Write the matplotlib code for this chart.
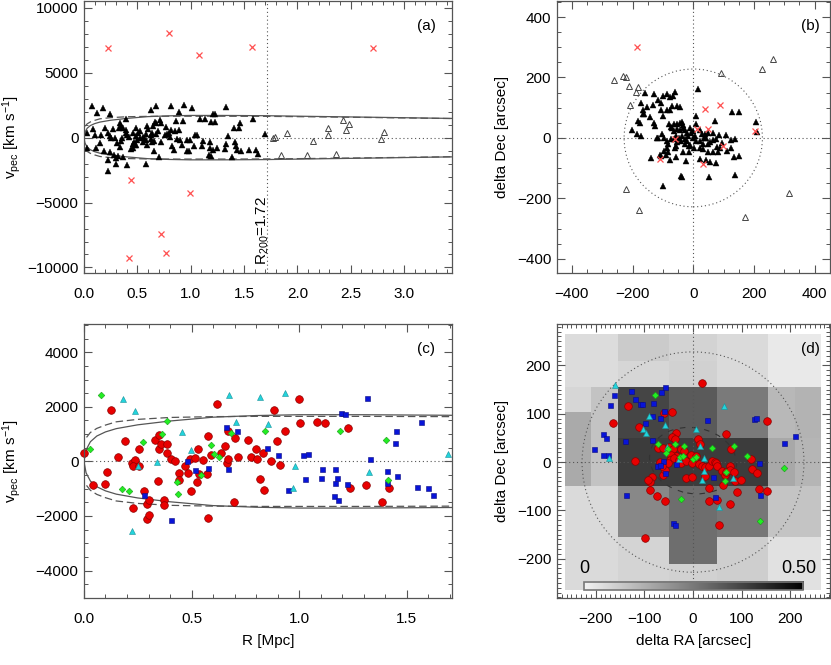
import numpy as np
import matplotlib
matplotlib.use("Agg")
import matplotlib.pyplot as plt
from matplotlib.colors import LinearSegmentedColormap
from matplotlib.patches import Circle, Ellipse
from matplotlib.ticker import MultipleLocator, FormatStrFormatter

plt.rcParams['font.family'] = ['Liberation Sans', 'DejaVu Sans']
plt.rcParams['mathtext.default'] = 'regular'
plt.rcParams['font.size'] = 11

# ---------------- panel (a): R [Mpc] vs v_pec ----------------
mem_r = [0.08, 0.18, 0.125, 0.24, 0.68, 0.625, 0.82, 0.94, 1.01, 0.89, 1.33, 1.21, 1.225, 1.09, 1.13,
         0.39, 0.86, 0.93, 1.19, 1.23, 1.46, 1.58, 0.20, 0.085, 0.27, 0.33, 0.34, 0.35, 0.37, 0.39,
         0.39, 0.665, 0.68, 0.715, 0.725, 0.645, 0.49, 0.53, 0.59, 0.60, 0.765, 0.82, 0.80, 0.85, 0.89,
         0.675, 0.695, 0.64, 0.63, 0.58, 0.55, 0.51, 0.46, 0.49, 0.425, 0.405, 0.25, 0.24, 0.29, 0.225,
         0.16, 0.105, 0.15, 0.11, 0.19, 0.24, 0.28, 0.30, 0.32, 0.37, 0.405, 0.225, 0.23, 0.30, 0.58,
         0.70, 0.44, 0.49, 0.46, 0.55, 0.56, 0.50, 0.525, 0.47, 0.46, 0.48, 0.34, 0.35, 0.31, 0.36,
         0.59, 0.625, 0.635, 0.655, 0.58, 0.655, 0.72, 0.76, 0.78, 0.81, 0.87, 0.90, 0.97, 0.99, 1.04,
         1.055, 0.825, 0.84, 0.915, 0.965, 0.98, 1.03, 1.105, 1.12, 1.18, 1.18, 1.21, 1.17, 1.19, 1.25,
         1.325, 1.33, 1.35, 1.39, 1.415, 1.425, 1.43, 1.47, 1.55, 1.61, 1.63, 1.405, 1.455, 1.70, 0.025,
         0.03]
mem_v = [2430, 2300, 1910, 1840, 2470, 2110, 2400, 2520, 2300, 1940, 2350, 1790, 1790, 1450, 1450,
         1470, 1320, 1320, 1230, 1230, 1150, 1450, 760, 640, 640, 760, 1130, 930, 740, 560,
         340, 1230, 1130, 1370, 1130, 930, 760, 540, 930, 640, 810, 560, 390, 490, 590,
         290, 540, 390, 200, 270, 70, 340, 340, 150, 50, 200, -50, 100, -50, 390,
         170, 170, -420, -830, -1000, -1130, -1370, -1570, -1420, -1520, -2130, -2600, -1720, -2030, -2060,
         -1520, -910, -590, -470, -340, -50, -170, -50, -340, -830, -590, -710, -290, -420, -50,
         -590, -100, -340, -220, -150, -1030, -340, 200, 250, 20, -100, -150, -150, -150, 220,
         220, -660, -980, -540, -1000, -1000, -660, -640, -290, -340, -760, -980, -1320, -1400, -830,
         -880, -470, 100, -1470, -340, -660, -980, -1030, -960, -980, -1230, 760, 740, 270, 390,
         -760]
out_r = [1.774, 1.79, 1.90, 2.143, 2.29, 2.29, 2.424, 2.487, 2.456, 2.786, 2.812, 1.846, 2.087, 2.359]
out_v = [-25, 25, 343, -270, 711, 221, 1348, 1078, 564, -123, 466, -1323, -1323, -1225]
int_r = [0.222, 0.80, 1.081, 1.572, 2.713, 0.438, 0.991, 0.722, 0.769, 0.422]
int_v = [6909, 8085, 6370, 7007, 6909, -3234, -4288, -7448, -8869, -9237]

# caustic curves
caus_r = [0.0, 0.01, 0.03, 0.06, 0.1, 0.15, 0.25, 0.4, 0.6, 0.8, 1.0, 1.3, 1.7, 2.2, 2.8, 3.45]
caus_solid = [0, 420, 720, 930, 1080, 1200, 1340, 1480, 1620, 1680, 1710, 1710, 1690, 1630, 1560, 1480]
dash_r = [0.012, 0.03, 0.06, 0.1, 0.15, 0.25, 0.4, 0.6, 0.8, 1.0, 1.3, 1.7, 2.2, 2.8, 3.45]
caus_dash = [880, 1060, 1210, 1330, 1450, 1540, 1610, 1640, 1650, 1650, 1650, 1640, 1600, 1540, 1470]
r200 = 1.72

# ---------------- panel (b): sky positions ----------------
mem_ra = [17, -59, -88, -130, -159, -67, -78, -99, -117, -105, -172, -55, -43, -69, -88, -78, -105, -132,
          -165, -183, -177, -202, -185, -173, -119, -100, -81, -72, -64, -52, -43, -38, -33, -69, -55, -44,
          -33, -26, -20, -9, -1, 10, 10, 21, 29, 7, -16, -37, -48, -65, -85, -88, -98, -77, -91, -108,
          -138, -25, -42, -38, -99, 21, 35, 43, 54, 65, 32, 47, 76, 66, 71, 85, 109, 126, 137, 126,
          112, 134, 150, 138, 208, 211, 151, 128, 78, 49, 32, 21, -14, 21, 43, 54, 51, -12, 74, -58,
          -52, -59, -27, -19, -58, -1, 10, 39, 48, 89, 96, 80, 65, 3, -28, -40, -73, -83, -64, -12,
          -102, -115, -142, -131, -125, -161, -154, -167, -110, -97, -83, -33, -58, -15]
mem_dec = [163, 152, 145, 145, 148, 138, 137, 138, 127, 115, 116, 105, 103, 105, 94, 94, 92, 110,
           80, 56, 50, 25, 14, 7, 0, 72, 45, 37, 45, 47, 49, 52, 43, 34, 31, 26,
           34, 25, 17, 16, 23, 72, 45, 25, 14, 8, 5, 7, 0, -4, -10, -34, -43, -73, -57, -59,
           -67, -75, -125, -130, -158, -10, -1, -1, -13, -8, -21, -21, -3, 17, 56, 10, 10, -7, -2, -32,
           -43, -64, -59, -122, 52, 19, 85, 86, -31, -48, -35, -34, -26, -70, -73, -81, -130, -24, -83, -26,
           -15, -34, -2, -10, 7, -1, -10, 12, 17, -32, -17, -48, -45, -32, -19, -10, -2, -21, 23, 34,
           14, 1, 69, 48, 38, 78, 102, 94, -56, 1, -45, -48, -64, -45]
out_ra = [-262, -233, -223, -212, -182, -189, -208, -223, -179, 93, 228, 263, 315, 172]
out_dec = [192, 205, 201, 173, 169, 151, 108, -168, -237, 214, 227, 260, -183, -263]
int_ra = [-186, -109, -59, 12, 48, 40, 87, 204, 97, 32]
int_dec = [302, -70, -4, 28, 28, 97, 110, 23, -28, -86]
r200_arcsec = 228

# ---------------- panel (c): member populations ----------------
red_r = [0.00, 0.04, 0.10, 0.105, 0.127, 0.158, 0.189, 0.222, 0.237, 0.229, 0.256, 0.257, 0.228, 0.278,
         0.293, 0.293, 0.302, 0.304, 0.332, 0.346, 0.350, 0.347, 0.360, 0.372, 0.374, 0.388, 0.384, 0.406,
         0.422, 0.471, 0.443, 0.442, 0.482, 0.494, 0.498, 0.518, 0.530, 0.524, 0.535, 0.555, 0.571, 0.574,
         0.575, 0.592, 0.616, 0.639, 0.654, 0.664, 0.668, 0.670, 0.695, 0.701, 0.716, 0.761, 0.774, 0.800,
         0.803, 0.816, 0.833, 0.836, 0.868, 0.881, 0.899, 0.909, 0.933, 0.997, 1.005, 1.081, 1.118, 1.226,
         1.237, 1.310, 1.385, 1.419]
red_v = [290, -857, -820, -406, 1867, 178, 748, -54, 56, -163, 445, -187, -1697, -1076,
         -1563, -2111, -1965, -1417, 785, -736, 980, 445, 629, -1405, -1599, 651, 324, 80,
         32, -163, -430, -686, -430, 105, -1076, 129, 470, -771, -467, 44, -467, 932,
         -2074, 226, 2099, 324, 555, -41, 80, 1114, -1502, 871, 166, 773, 178, 445,
         80, -650, 324, -1052, 7, 1894, 748, -139, 1126, 2271, 1419, 1430, 1406, 1211,
         -978, -857, -1490, -991]
blue_r = [0.279, 0.405, 0.478, 0.518, 0.578, 0.660, 0.671, 0.713, 0.850, 0.901, 0.950, 1.017, 1.042,
          1.025, 1.102, 1.105, 1.164, 1.167, 1.175, 1.160, 1.178, 1.194, 1.214, 1.222, 1.316, 1.330,
          1.408, 1.408, 1.451, 1.443, 1.454, 1.547, 1.567, 1.597, 1.623]
blue_v = [-1223, -2159, 7, -321, -248, 1248, -285, 1114, 494, 226, -1040, 238, 275,
          -662, -625, -285, -297, -808, -601, -1283, -1405, 1771, 1735, -833, 2308, 92,
          -346, -808, 1126, 689, -552, -954, 1431, -978, -1246]
cyan_r = [0.180, 0.237, 0.225, 0.253, 0.341, 0.456, 0.496, 0.676, 0.707, 0.817, 0.857, 0.932, 0.980,
          0.971, 1.322, 1.692]
cyan_v = [2270, 1844, -2536, -163, -5, 1078, 421, 2440, 1442, 2368, 1357, 2490, -163,
          -978, -381, 288]
green_r = [0.079, 0.029, 0.178, 0.208, 0.276, 0.364, 0.388, 0.434, 0.437, 0.546, 0.592, 0.602, 0.629,
           0.685, 0.842, 1.189, 1.403, 1.412]
green_v = [2427, 469, -1015, -1088, 712, 1016, 1478, -748, -1199, -503, 615, 287, 153,
           1054, 1126, 1126, 785, -675]

# ---------------- panel (d): populations on the sky ----------------
red_ra = [18, -133, -44, -59, -165, -112, -34, 68, 153, 10, 14, -44, -38, -71, -62, -49, -41, -24, -19,
          -34, -45, -48, -51, -39, -29, -24, -15, -5, 7, 2, -3, 12, 19, 24, 32, 40, 45, 48, 50, 60, 65,
          68, 75, 77, 84, 86, 99, 78, 120, 122, 131, 25, -14, -3, -62, -57, -64, -68, -85, -89, -92,
          -119, 33, 32, 49, 75, 91, 62, 136, 152, 54, -75, -58, -89, -99]
red_dec = [164, 115, 104, 101, 80, 72, 60, 59, 85, 47, 37, 51, 48, 29, 30, 32, 28, 26, 23,
           12, 15, 5, -1, 8, 5, -2, 3, 15, 12, 3, -2, -3, -9, -10, -9, 3, 1, -2, -9, -19, -26,
           -21, -9, -16, -21, -39, -37, 27, 6, -14, -23, -28, -34, -30, -26, -16, -9, 1, -31, -42, -38,
           2, -54, -80, -78, -86, -61, -47, -55, -59, -130, -71, -81, -57, -157]
blue_ra = [-58, -66, -127, -162, -119, -108, -105, -82, -171, -60, -85, -67, -99, 29, 126, 130, 209,
           188, -184, -179, -203, -185, -175, -140, -84, -62, -75, -68, -36, -58, 42, 136, 137, -137,
           45, -41, -38]
blue_dec = [155, 144, 147, 138, 131, 121, 121, 123, 119, 106, 95, 92, 81, 86, 90, 91, 54,
            39, 58, 50, 28, 15, 14, 43, 45, 2, -8, -7, -4, -23, -30, -1, -68, -68,
            -73, -126, -130]
cyan_ra = [-160, 63, -90, -58, -103, -97, 7, 14, -53, -173, -29, 23, 23, 18, 82, 54]
cyan_dec = [160, 115, 96, 77, 69, 61, 69, 34, 31, 8, 6, 9, -19, -37, -32, -92]
green_ra = [-79, -71, -38, -18, 40, 84, -52, -55, -27, -21, 0, 7, 68, 66, 111, 186, -24, 138]
green_dec = [139, 38, 38, 34, 30, 34, 26, 19, 10, 13, 6, 10, -21, -39, 12, -12, -77, -122]

# binned fraction map behind panel (d), rows from top (north) to bottom
map_edges = [-264, -210, -155, -103, -50, 0, 50, 103, 155, 210, 264]
frac_map = [
    [0.045, 0.045, 0.081, 0.081, 0.066, 0.066, 0.050, 0.050, 0.021, 0.021],
    [0.045, 0.045, 0.058, 0.058, 0.070, 0.070, 0.050, 0.050, 0.021, 0.021],
    [0.060, 0.097, 0.357, 0.357, 0.314, 0.314, 0.248, 0.248, 0.120, 0.130],
    [0.149, 0.097, 0.357, 0.357, 0.314, 0.314, 0.248, 0.248, 0.120, 0.130],
    [0.149, 0.097, 0.376, 0.376, 0.376, 0.376, 0.376, 0.376, 0.153, 0.126],
    [0.149, 0.097, 0.376, 0.376, 0.376, 0.376, 0.376, 0.376, 0.153, 0.126],
    [0.050, 0.050, 0.219, 0.219, 0.273, 0.273, 0.254, 0.254, 0.095, 0.095],
    [0.050, 0.050, 0.219, 0.219, 0.273, 0.273, 0.254, 0.254, 0.095, 0.095],
    [0.050, 0.050, 0.064, 0.064, 0.273, 0.273, 0.076, 0.076, 0.037, 0.037],
    [0.050, 0.050, 0.064, 0.064, 0.070, 0.070, 0.076, 0.076, 0.037, 0.037],
]
frac_max = 0.5

AXCOL = '#555555'


def idl_axes(ax, xmaj, xmin, ymaj, ymin):
    for s in ax.spines.values():
        s.set_color(AXCOL)
        s.set_linewidth(0.9)
    ax.xaxis.set_major_locator(MultipleLocator(xmaj))
    ax.xaxis.set_minor_locator(MultipleLocator(xmin))
    ax.yaxis.set_major_locator(MultipleLocator(ymaj))
    ax.yaxis.set_minor_locator(MultipleLocator(ymin))
    ax.tick_params(which='both', direction='in', top=True, right=True, color=AXCOL, labelsize=11)
    ax.tick_params(which='major', length=6, width=0.8)
    ax.tick_params(which='minor', length=3, width=0.7)
    ax.tick_params(axis='x', pad=10)
    ax.tick_params(axis='y', pad=4)


fig = plt.figure(figsize=(8.31, 6.65), dpi=100)
ax_a = fig.add_axes([0.101, 0.589, 0.443, 0.409])
ax_b = fig.add_axes([0.670, 0.589, 0.3285, 0.409])
ax_c = fig.add_axes([0.101, 0.101, 0.443, 0.412])
ax_d = fig.add_axes([0.670, 0.101, 0.3285, 0.412])

dot = dict(color=AXCOL, linestyle=(0, (1, 2.5)), linewidth=0.8)
cl = '#555555'

# (a)
ax = ax_a
ax.plot(caus_r, caus_solid, color=cl, lw=0.9)
ax.plot(caus_r, [-v for v in caus_solid], color=cl, lw=0.9)
ax.plot(dash_r, caus_dash, color=cl, lw=0.9, dashes=(6, 3))
ax.plot(dash_r, [-v for v in caus_dash], color=cl, lw=0.9, dashes=(6, 3))
ax.axhline(0, **dot)
ax.axvline(r200, **dot)
ax.plot(mem_r, mem_v, '^', color='black', ms=4.2, mew=0.3)
ax.plot(out_r, out_v, '^', mfc='none', mec='#444444', ms=4.2, mew=0.7)
ax.plot(int_r, int_v, 'x', color='#ff5050', ms=5, mew=0.9)
ax.text(1.68, -9800, 'R$_{200}$=1.72', rotation=90, ha='center', va='bottom', fontsize=11)
ax.set_xlim(0, 3.45)
ax.set_ylim(-10450, 10500)
idl_axes(ax, 0.5, 0.1, 5000, 1000)
ax.xaxis.set_major_formatter(FormatStrFormatter('%.1f'))
ax.set_ylabel('v$_{pec}$ [km s$^{-1}$]')
ax.yaxis.set_label_coords(-0.166, 0.5)
ax.text(0.93, 0.91, '(a)', transform=ax.transAxes, ha='center', va='center')

# (b)
ax = ax_b
ax.add_patch(Circle((0, 0), r200_arcsec, fill=False, **dot))
ax.axhline(0, **dot)
ax.axvline(0, **dot)
ax.plot(mem_ra, mem_dec, '^', color='black', ms=4.2, mew=0.3)
ax.plot(out_ra, out_dec, '^', mfc='none', mec='#444444', ms=4.2, mew=0.7)
ax.plot(int_ra, int_dec, 'x', color='#ff5050', ms=5, mew=0.9)
ax.set_xlim(-450, 450)
ax.set_ylim(-448, 452)
idl_axes(ax, 200, 50, 200, 50)
ax.set_ylabel('delta Dec [arcsec]')
ax.yaxis.set_label_coords(-0.176, 0.5)
ax.text(0.93, 0.91, '(b)', transform=ax.transAxes, ha='center', va='center')

# (c)
ax = ax_c
ax.plot(caus_r, caus_solid, color=cl, lw=0.9)
ax.plot(caus_r, [-v for v in caus_solid], color=cl, lw=0.9)
ax.plot(dash_r, caus_dash, color=cl, lw=0.9, dashes=(6, 3))
ax.plot(dash_r, [-v for v in caus_dash], color=cl, lw=0.9, dashes=(6, 3))
ax.axhline(0, **dot)
ax.plot(red_r, red_v, 'o', mfc='#e80000', mec='#8a0000', ms=5.5, mew=0.5, clip_on=False)
ax.plot(blue_r, blue_v, 's', mfc='#0814d8', mec='#0a0a80', ms=3.6, mew=0.4)
ax.plot(cyan_r, cyan_v, '^', mfc='#22d4dc', mec='#1a9098', ms=4.2, mew=0.4)
ax.plot(green_r, green_v, 'D', mfc='#22ee22', mec='#1a9a1a', ms=3.4, mew=0.4)
ax.set_xlim(0, 1.71)
ax.set_ylim(-5000, 5040)
idl_axes(ax, 0.5, 0.1, 2000, 500)
ax.xaxis.set_major_formatter(FormatStrFormatter('%.1f'))
ax.set_ylabel('v$_{pec}$ [km s$^{-1}$]')
ax.yaxis.set_label_coords(-0.166, 0.5)
ax.set_xlabel('R [Mpc]', labelpad=6)
ax.text(0.93, 0.91, '(c)', transform=ax.transAxes, ha='center', va='center')

# (d)
ax = ax_d
cmap = LinearSegmentedColormap.from_list('frac', ['#f2f2f2', '#000000'])
ax.pcolormesh(map_edges, map_edges[::-1], np.array(frac_map), cmap=cmap, vmin=0, vmax=frac_max,
              shading='flat')
ax.imshow(np.linspace(0, frac_max, 256)[None, :], cmap=cmap, vmin=0, vmax=frac_max,
          extent=(-225, 227, -265, -248), aspect='auto', zorder=3)
ax.add_patch(plt.Rectangle((-225, -265), 452, 17, fill=False, ec='#777777', lw=1.2, zorder=4))
ax.text(-234, -237, '0', ha='left', va='bottom', fontsize=13, zorder=4)
ax.text(254, -237, '0.50', ha='right', va='bottom', fontsize=13, zorder=4)
ax.add_patch(Circle((0, 0), r200_arcsec, fill=False, zorder=2, **dot))
ax.add_patch(Ellipse((0, 3), 180, 136, angle=-10, fill=False, ec='#333333', lw=0.8,
                     linestyle=(0, (5, 6)), zorder=2))
ax.axhline(0, zorder=2, **dot)
ax.axvline(0, zorder=2, **dot)
ax.plot(red_ra, red_dec, 'o', mfc='#e80000', mec='#8a0000', ms=5.5, mew=0.5, zorder=5)
ax.plot(blue_ra, blue_dec, 's', mfc='#0814d8', mec='#0a0a80', ms=3.6, mew=0.4, zorder=5)
ax.plot(cyan_ra, cyan_dec, '^', mfc='#22d4dc', mec='#1a9098', ms=4.2, mew=0.4, zorder=5)
ax.plot(green_ra, green_dec, 'D', mfc='#22ee22', mec='#1a9a1a', ms=3.4, mew=0.4, zorder=5)
ax.set_xlim(-280, 281)
ax.set_ylim(-281, 286)
idl_axes(ax, 100, 10, 100, 10)
ax.set_ylabel('delta Dec [arcsec]')
ax.yaxis.set_label_coords(-0.176, 0.5)
ax.set_xlabel('delta RA [arcsec]', labelpad=6)
ax.text(0.93, 0.91, '(d)', transform=ax.transAxes, ha='center', va='center', zorder=6)

fig.savefig('out.png', dpi=100)
